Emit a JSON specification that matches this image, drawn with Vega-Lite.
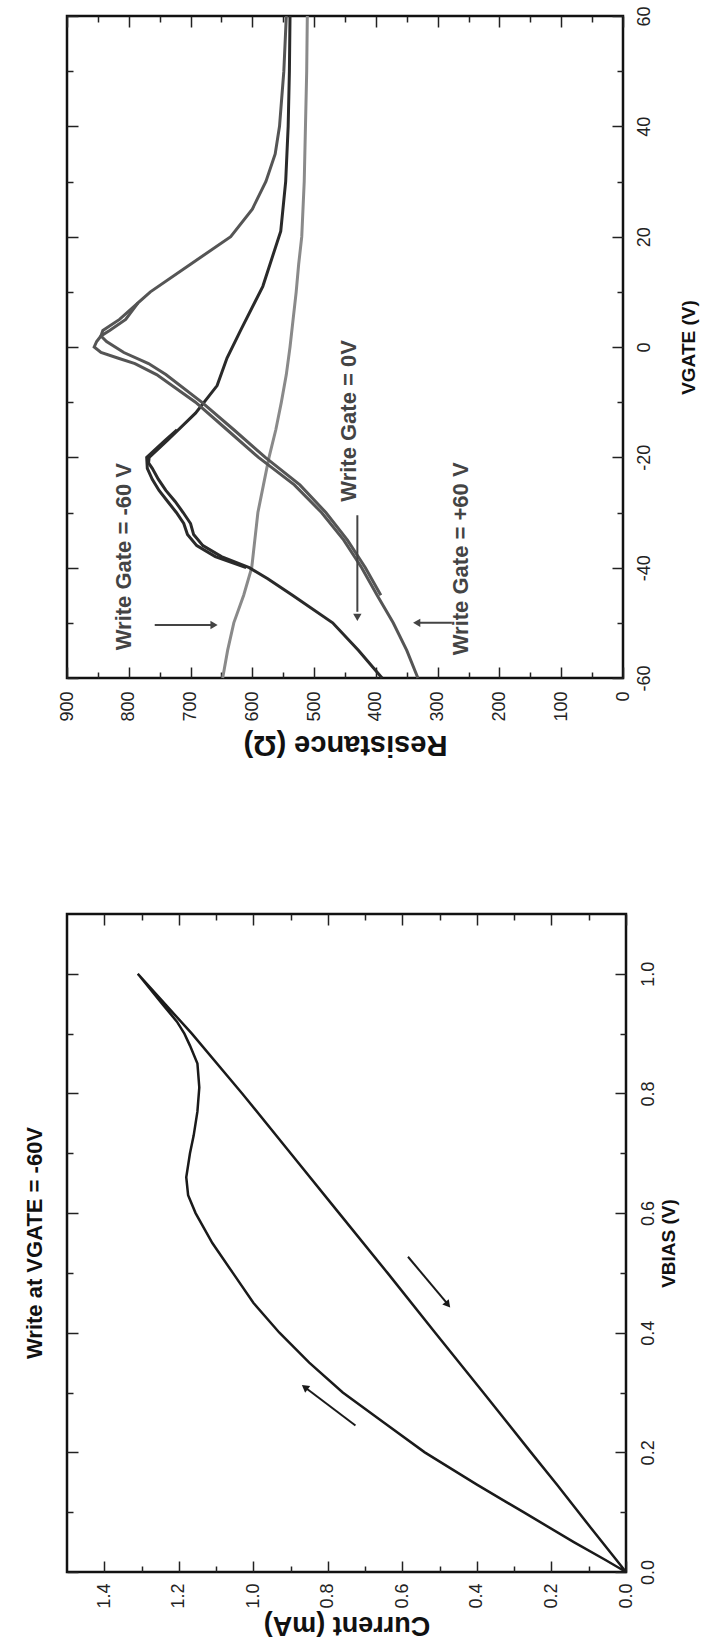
{
  "$schema": "https://vega.github.io/schema/vega-lite/v6.json",
  "background": "white",
  "padding": {"left": 22, "top": 4, "right": 0, "bottom": 0},
  "spacing": 152,
  "config": {
    "font": "Liberation Sans",
    "view": {"stroke": "#111111", "strokeWidth": 2.5},
    "axis": {
      "grid": false,
      "domain": false,
      "labelFont": "Liberation Sans",
      "labelFontSize": 18,
      "labelColor": "#222222",
      "tickColor": "#222222",
      "tickWidth": 1.5,
      "labelFlush": false,
      "labelOverlap": false,
      "titleFont": "Liberation Sans",
      "titleFontWeight": "bold",
      "titleColor": "#111111"
    }
  },
  "vconcat": [
    {
      "width": 556,
      "height": 662,
      "resolve": {"axis": {"x": "independent", "y": "independent"}},
      "layer": [
        {
          "data": {"values": [
            {"curve": "-60 V", "sweep": "a1", "vg": -60, "r": 648}, {"curve": "-60 V", "sweep": "a1", "vg": -55, "r": 640}, {"curve": "-60 V", "sweep": "a1", "vg": -50, "r": 630},
            {"curve": "-60 V", "sweep": "a1", "vg": -45, "r": 614}, {"curve": "-60 V", "sweep": "a1", "vg": -40, "r": 601}, {"curve": "-60 V", "sweep": "a1", "vg": -35, "r": 596},
            {"curve": "-60 V", "sweep": "a1", "vg": -30, "r": 591}, {"curve": "-60 V", "sweep": "a1", "vg": -25, "r": 582}, {"curve": "-60 V", "sweep": "a1", "vg": -20, "r": 573},
            {"curve": "-60 V", "sweep": "a1", "vg": -15, "r": 562}, {"curve": "-60 V", "sweep": "a1", "vg": -10, "r": 553}, {"curve": "-60 V", "sweep": "a1", "vg": -5, "r": 545},
            {"curve": "-60 V", "sweep": "a1", "vg": 0, "r": 539}, {"curve": "-60 V", "sweep": "a1", "vg": 5, "r": 534}, {"curve": "-60 V", "sweep": "a1", "vg": 10, "r": 529},
            {"curve": "-60 V", "sweep": "a1", "vg": 15, "r": 525}, {"curve": "-60 V", "sweep": "a1", "vg": 20, "r": 520}, {"curve": "-60 V", "sweep": "a1", "vg": 30, "r": 516},
            {"curve": "-60 V", "sweep": "a1", "vg": 40, "r": 514}, {"curve": "-60 V", "sweep": "a1", "vg": 50, "r": 512}, {"curve": "-60 V", "sweep": "a1", "vg": 60, "r": 511},
            {"curve": "0 V", "sweep": "b1", "vg": -60, "r": 390}, {"curve": "0 V", "sweep": "b1", "vg": -55, "r": 428}, {"curve": "0 V", "sweep": "b1", "vg": -50, "r": 470},
            {"curve": "0 V", "sweep": "b1", "vg": -45, "r": 535}, {"curve": "0 V", "sweep": "b1", "vg": -42, "r": 575}, {"curve": "0 V", "sweep": "b1", "vg": -40, "r": 605},
            {"curve": "0 V", "sweep": "b1", "vg": -38, "r": 650}, {"curve": "0 V", "sweep": "b1", "vg": -36, "r": 680}, {"curve": "0 V", "sweep": "b1", "vg": -34, "r": 695},
            {"curve": "0 V", "sweep": "b1", "vg": -32, "r": 700}, {"curve": "0 V", "sweep": "b1", "vg": -30, "r": 712}, {"curve": "0 V", "sweep": "b1", "vg": -28, "r": 725},
            {"curve": "0 V", "sweep": "b1", "vg": -26, "r": 740}, {"curve": "0 V", "sweep": "b1", "vg": -24, "r": 752}, {"curve": "0 V", "sweep": "b1", "vg": -22, "r": 762},
            {"curve": "0 V", "sweep": "b1", "vg": -21, "r": 768}, {"curve": "0 V", "sweep": "b1", "vg": -20, "r": 767}, {"curve": "0 V", "sweep": "b1", "vg": -17, "r": 738},
            {"curve": "0 V", "sweep": "b1", "vg": -12, "r": 692}, {"curve": "0 V", "sweep": "b1", "vg": -7, "r": 657}, {"curve": "0 V", "sweep": "b1", "vg": -2, "r": 641},
            {"curve": "0 V", "sweep": "b1", "vg": 3, "r": 619}, {"curve": "0 V", "sweep": "b1", "vg": 11, "r": 583}, {"curve": "0 V", "sweep": "b1", "vg": 21, "r": 554},
            {"curve": "0 V", "sweep": "b1", "vg": 30, "r": 546}, {"curve": "0 V", "sweep": "b1", "vg": 40, "r": 542}, {"curve": "0 V", "sweep": "b1", "vg": 50, "r": 540},
            {"curve": "0 V", "sweep": "b1", "vg": 60, "r": 539},
            {"curve": "0 V", "sweep": "b2", "vg": -40, "r": 610}, {"curve": "0 V", "sweep": "b2", "vg": -38, "r": 660}, {"curve": "0 V", "sweep": "b2", "vg": -36, "r": 690},
            {"curve": "0 V", "sweep": "b2", "vg": -34, "r": 705}, {"curve": "0 V", "sweep": "b2", "vg": -32, "r": 711}, {"curve": "0 V", "sweep": "b2", "vg": -30, "r": 723},
            {"curve": "0 V", "sweep": "b2", "vg": -28, "r": 737}, {"curve": "0 V", "sweep": "b2", "vg": -26, "r": 751}, {"curve": "0 V", "sweep": "b2", "vg": -24, "r": 762},
            {"curve": "0 V", "sweep": "b2", "vg": -22, "r": 770}, {"curve": "0 V", "sweep": "b2", "vg": -20, "r": 771}, {"curve": "0 V", "sweep": "b2", "vg": -17, "r": 742},
            {"curve": "0 V", "sweep": "b2", "vg": -15, "r": 722},
            {"curve": "+60 V", "sweep": "c1", "vg": -60, "r": 332}, {"curve": "+60 V", "sweep": "c1", "vg": -55, "r": 350}, {"curve": "+60 V", "sweep": "c1", "vg": -50, "r": 372},
            {"curve": "+60 V", "sweep": "c1", "vg": -45, "r": 398}, {"curve": "+60 V", "sweep": "c1", "vg": -40, "r": 423}, {"curve": "+60 V", "sweep": "c1", "vg": -35, "r": 452},
            {"curve": "+60 V", "sweep": "c1", "vg": -30, "r": 488}, {"curve": "+60 V", "sweep": "c1", "vg": -25, "r": 532}, {"curve": "+60 V", "sweep": "c1", "vg": -20, "r": 590},
            {"curve": "+60 V", "sweep": "c1", "vg": -15, "r": 641}, {"curve": "+60 V", "sweep": "c1", "vg": -10, "r": 692}, {"curve": "+60 V", "sweep": "c1", "vg": -5, "r": 755},
            {"curve": "+60 V", "sweep": "c1", "vg": -3, "r": 790}, {"curve": "+60 V", "sweep": "c1", "vg": -2, "r": 818}, {"curve": "+60 V", "sweep": "c1", "vg": -1, "r": 845},
            {"curve": "+60 V", "sweep": "c1", "vg": 0, "r": 856}, {"curve": "+60 V", "sweep": "c1", "vg": 1, "r": 852}, {"curve": "+60 V", "sweep": "c1", "vg": 2, "r": 845},
            {"curve": "+60 V", "sweep": "c1", "vg": 3, "r": 831}, {"curve": "+60 V", "sweep": "c1", "vg": 5, "r": 805}, {"curve": "+60 V", "sweep": "c1", "vg": 8, "r": 785},
            {"curve": "+60 V", "sweep": "c1", "vg": 10, "r": 765}, {"curve": "+60 V", "sweep": "c1", "vg": 15, "r": 700}, {"curve": "+60 V", "sweep": "c1", "vg": 20, "r": 635},
            {"curve": "+60 V", "sweep": "c1", "vg": 25, "r": 600}, {"curve": "+60 V", "sweep": "c1", "vg": 30, "r": 578}, {"curve": "+60 V", "sweep": "c1", "vg": 35, "r": 563},
            {"curve": "+60 V", "sweep": "c1", "vg": 40, "r": 556}, {"curve": "+60 V", "sweep": "c1", "vg": 50, "r": 549}, {"curve": "+60 V", "sweep": "c1", "vg": 60, "r": 545},
            {"curve": "+60 V", "sweep": "c2", "vg": -45, "r": 392}, {"curve": "+60 V", "sweep": "c2", "vg": -40, "r": 417}, {"curve": "+60 V", "sweep": "c2", "vg": -35, "r": 446},
            {"curve": "+60 V", "sweep": "c2", "vg": -30, "r": 481}, {"curve": "+60 V", "sweep": "c2", "vg": -25, "r": 523}, {"curve": "+60 V", "sweep": "c2", "vg": -20, "r": 579},
            {"curve": "+60 V", "sweep": "c2", "vg": -15, "r": 630}, {"curve": "+60 V", "sweep": "c2", "vg": -10, "r": 682}, {"curve": "+60 V", "sweep": "c2", "vg": -5, "r": 740},
            {"curve": "+60 V", "sweep": "c2", "vg": -3, "r": 768}, {"curve": "+60 V", "sweep": "c2", "vg": -1, "r": 808}, {"curve": "+60 V", "sweep": "c2", "vg": 1, "r": 836},
            {"curve": "+60 V", "sweep": "c2", "vg": 2, "r": 845}, {"curve": "+60 V", "sweep": "c2", "vg": 3, "r": 842}, {"curve": "+60 V", "sweep": "c2", "vg": 5, "r": 815},
            {"curve": "+60 V", "sweep": "c2", "vg": 8, "r": 785}
          ]},
          "mark": {"type": "line", "strokeWidth": 3},
          "encoding": {
            "x": {
              "field": "r", "type": "quantitative",
              "scale": {"domain": [0, 900], "reverse": true, "nice": false, "zero": false},
              "axis": {
                "orient": "bottom",
                "values": [0, 50, 100, 150, 200, 250, 300, 350, 400, 450, 500, 550, 600, 650, 700, 750, 800, 850, 900],
                "labelExpr": "datum.value % 100 === 0 ? '' + datum.value : ''",
                "labelAngle": 270, "labelAlign": "right", "labelBaseline": "middle", "labelPadding": 24,
                "tickSize": {"condition": {"test": "datum.value % 100 === 0", "value": -11}, "value": -6},
                "title": "Resistance (Ω)", "titleAngle": 180, "titleBaseline": "bottom", "titleFontSize": 29, "titlePadding": 8
              }
            },
            "y": {
              "field": "vg", "type": "quantitative",
              "scale": {"domain": [-60, 60], "nice": false, "zero": false},
              "axis": {
                "orient": "right",
                "values": [-60, -50, -40, -30, -20, -10, 0, 10, 20, 30, 40, 50, 60],
                "labelExpr": "datum.value % 20 === 0 ? '' + datum.value : ''",
                "labelAngle": 270, "labelAlign": "center", "labelBaseline": "top", "labelPadding": 23,
                "tickSize": {"condition": {"test": "datum.value % 20 === 0", "value": -11}, "value": -6},
                "title": "VGATE (V)", "titleAngle": 270, "titleBaseline": "top", "titleFontSize": 19, "titlePadding": 21
              }
            },
            "color": {"field": "curve", "type": "nominal", "scale": {"domain": ["-60 V", "0 V", "+60 V"], "range": ["#8a8a8a", "#2a2a2a", "#555555"]}, "legend": null},
            "detail": {"field": "sweep", "type": "nominal"},
            "order": {"field": "vg", "type": "quantitative"}
          }
        },
        {
          "data": {"values": [
            {"r1": 758, "v1": -50.4, "r2": 662, "v2": -50.4},
            {"r1": 430, "v1": -30.5, "r2": 430, "v2": -48},
            {"r1": 277, "v1": -50, "r2": 332, "v2": -50}
          ]},
          "mark": {"type": "rule", "strokeWidth": 2, "color": "#444444"},
          "encoding": {
            "x": {
              "field": "r1", "type": "quantitative",
              "axis": {
                "orient": "top", "labels": false, "title": null,
                "values": [0, 50, 100, 150, 200, 250, 300, 350, 400, 450, 500, 550, 600, 650, 700, 750, 800, 850, 900],
                "tickSize": {"condition": {"test": "datum.value % 100 === 0", "value": -11}, "value": -6}
              }
            },
            "x2": {"field": "r2"},
            "y": {
              "field": "v1", "type": "quantitative",
              "axis": {
                "orient": "left", "labels": false, "title": null,
                "values": [-60, -50, -40, -30, -20, -10, 0, 10, 20, 30, 40, 50, 60],
                "tickSize": {"condition": {"test": "datum.value % 20 === 0", "value": -11}, "value": -6}
              }
            },
            "y2": {"field": "v2"}
          }
        },
        {
          "data": {"values": [
            {"r": 662, "vg": -50.4, "heading": 90},
            {"r": 430, "vg": -49, "heading": 180},
            {"r": 334, "vg": -50, "heading": 270}
          ]},
          "mark": {"type": "point", "shape": "triangle-up", "filled": true, "size": 70, "color": "#444444", "opacity": 1},
          "encoding": {
            "x": {"field": "r", "type": "quantitative", "axis": null},
            "y": {"field": "vg", "type": "quantitative", "axis": null},
            "angle": {"field": "heading", "type": "quantitative", "scale": {"domain": [0, 360], "range": [0, 360]}}
          }
        },
        {
          "data": {"values": [
            {"r": 808, "vg": -38, "label": "Write Gate = -60 V"},
            {"r": 444, "vg": -13.4, "label": "Write Gate = 0V"},
            {"r": 262, "vg": -38.4, "label": "Write Gate = +60 V"}
          ]},
          "mark": {"type": "text", "angle": 270, "align": "center", "baseline": "middle", "fontSize": 22, "fontWeight": "bold", "color": "#444444", "font": "Liberation Sans"},
          "encoding": {
            "x": {"field": "r", "type": "quantitative", "axis": null},
            "y": {"field": "vg", "type": "quantitative", "axis": null},
            "text": {"field": "label"}
          }
        }
      ]
    },
    {
      "width": 559,
      "height": 658,
      "title": {"text": "Write at VGATE = -60V", "orient": "left", "anchor": "middle", "fontSize": 22, "fontWeight": "bold", "font": "Liberation Sans", "color": "#111111", "offset": 19},
      "resolve": {"axis": {"x": "independent", "y": "independent"}},
      "layer": [
        {
          "data": {"values": [
            {"step": 0, "vbias": 0, "current": 0}, {"step": 1, "vbias": 0.02, "current": 0.055}, {"step": 2, "vbias": 0.05, "current": 0.14},
            {"step": 3, "vbias": 0.1, "current": 0.275}, {"step": 4, "vbias": 0.146, "current": 0.4}, {"step": 5, "vbias": 0.2, "current": 0.54},
            {"step": 6, "vbias": 0.25, "current": 0.65}, {"step": 7, "vbias": 0.3, "current": 0.76}, {"step": 8, "vbias": 0.35, "current": 0.85},
            {"step": 9, "vbias": 0.4, "current": 0.93}, {"step": 10, "vbias": 0.45, "current": 1.0}, {"step": 11, "vbias": 0.5, "current": 1.055},
            {"step": 12, "vbias": 0.55, "current": 1.11}, {"step": 13, "vbias": 0.6, "current": 1.155}, {"step": 14, "vbias": 0.63, "current": 1.175},
            {"step": 15, "vbias": 0.66, "current": 1.18}, {"step": 16, "vbias": 0.7, "current": 1.17}, {"step": 17, "vbias": 0.73, "current": 1.16},
            {"step": 18, "vbias": 0.77, "current": 1.15}, {"step": 19, "vbias": 0.81, "current": 1.145}, {"step": 20, "vbias": 0.85, "current": 1.15},
            {"step": 21, "vbias": 0.88, "current": 1.17}, {"step": 22, "vbias": 0.9, "current": 1.185}, {"step": 23, "vbias": 0.92, "current": 1.205},
            {"step": 24, "vbias": 0.95, "current": 1.245}, {"step": 25, "vbias": 1.0, "current": 1.31},
            {"step": 26, "vbias": 0.9, "current": 1.165}, {"step": 27, "vbias": 0.8, "current": 1.03}, {"step": 28, "vbias": 0.7, "current": 0.9},
            {"step": 29, "vbias": 0.6, "current": 0.77}, {"step": 30, "vbias": 0.5, "current": 0.64}, {"step": 31, "vbias": 0.4, "current": 0.512},
            {"step": 32, "vbias": 0.3, "current": 0.383}, {"step": 33, "vbias": 0.2, "current": 0.255}, {"step": 34, "vbias": 0.146, "current": 0.185},
            {"step": 35, "vbias": 0.0735, "current": 0.094}, {"step": 36, "vbias": 0, "current": 0}
          ]},
          "mark": {"type": "line", "strokeWidth": 2.5, "color": "#1a1a1a"},
          "encoding": {
            "x": {
              "field": "current", "type": "quantitative",
              "scale": {"domain": [0, 1.5], "reverse": true, "nice": false, "zero": false},
              "axis": {
                "orient": "bottom",
                "values": [0, 0.1, 0.2, 0.3, 0.4, 0.5, 0.6, 0.7, 0.8, 0.9, 1.0, 1.1, 1.2, 1.3, 1.4],
                "labelExpr": "round(datum.value * 10) % 2 === 0 ? format(datum.value, '.1f') : ''",
                "labelAngle": 270, "labelAlign": "right", "labelBaseline": "middle", "labelPadding": 22,
                "tickSize": {"condition": {"test": "round(datum.value * 10) % 2 === 0", "value": -11}, "value": -6},
                "title": "Current (mA)", "titleAngle": 180, "titleBaseline": "bottom", "titleFontSize": 27, "titlePadding": 2
              }
            },
            "y": {
              "field": "vbias", "type": "quantitative",
              "scale": {"domain": [0, 1.1], "nice": false, "zero": false},
              "axis": {
                "orient": "right",
                "values": [0, 0.1, 0.2, 0.3, 0.4, 0.5, 0.6, 0.7, 0.8, 0.9, 1.0],
                "labelExpr": "round(datum.value * 10) % 2 === 0 ? format(datum.value, '.1f') : ''",
                "labelAngle": 270, "labelAlign": "center", "labelBaseline": "top", "labelPadding": 24,
                "tickSize": {"condition": {"test": "round(datum.value * 10) % 2 === 0", "value": -11}, "value": -6},
                "title": "VBIAS (V)", "titleAngle": 270, "titleBaseline": "top", "titleFontSize": 19, "titlePadding": -3
              }
            },
            "order": {"field": "step", "type": "quantitative"}
          }
        },
        {
          "data": {"values": [
            {"c1": 0.726, "v1": 0.245, "c2": 0.86, "v2": 0.308},
            {"c1": 0.585, "v1": 0.527, "c2": 0.48, "v2": 0.449}
          ]},
          "mark": {"type": "rule", "strokeWidth": 2, "color": "#1a1a1a"},
          "encoding": {
            "x": {
              "field": "c1", "type": "quantitative",
              "axis": {
                "orient": "top", "labels": false, "title": null,
                "values": [0, 0.1, 0.2, 0.3, 0.4, 0.5, 0.6, 0.7, 0.8, 0.9, 1.0, 1.1, 1.2, 1.3, 1.4],
                "tickSize": {"condition": {"test": "round(datum.value * 10) % 2 === 0", "value": -11}, "value": -6}
              }
            },
            "x2": {"field": "c2"},
            "y": {
              "field": "v1", "type": "quantitative",
              "axis": {
                "orient": "left", "labels": false, "title": null,
                "values": [0, 0.1, 0.2, 0.3, 0.4, 0.5, 0.6, 0.7, 0.8, 0.9, 1.0],
                "tickSize": {"condition": {"test": "round(datum.value * 10) % 2 === 0", "value": -11}, "value": -6}
              }
            },
            "y2": {"field": "v2"}
          }
        },
        {
          "data": {"values": [
            {"current": 0.862, "vbias": 0.309, "heading": 307},
            {"current": 0.478, "vbias": 0.447, "heading": 140}
          ]},
          "mark": {"type": "point", "shape": "triangle-up", "filled": true, "size": 70, "color": "#1a1a1a", "opacity": 1},
          "encoding": {
            "x": {"field": "current", "type": "quantitative", "axis": null},
            "y": {"field": "vbias", "type": "quantitative", "axis": null},
            "angle": {"field": "heading", "type": "quantitative", "scale": {"domain": [0, 360], "range": [0, 360]}}
          }
        }
      ]
    }
  ]
}
